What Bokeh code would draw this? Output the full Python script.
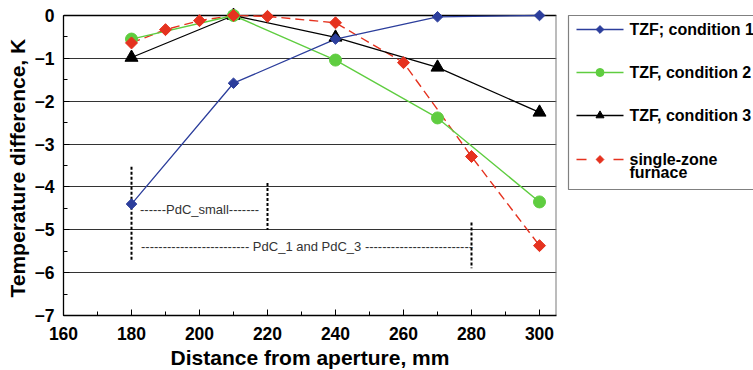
from bokeh.plotting import figure
from bokeh.models import Range1d, SingleIntervalTicker, Title
from bokeh.layouts import row
from bokeh.embed import file_html
from bokeh.resources import INLINE
from bokeh.core.properties import value
import numpy as np

# Measured temperature differences (K) along the furnace
distance = [180, 210, 240, 270, 300]
tzf_cond1 = [-4.40, -1.58, -0.55, -0.03, 0.0]
tzf_cond2 = [-0.55, 0.0, -1.04, -2.39, -4.35]
tzf_cond3 = [-0.98, 0.0, -0.51, -1.21, -2.26]

single_distance = [180, 190, 200, 210, 220, 240, 260, 280, 300]
single_zone = [-0.64, -0.33, -0.12, 0.0, -0.02, -0.17, -1.10, -3.29, -5.37]

series_labels = ["TZF; condition 1", "TZF, condition 2", "TZF, condition 3", "single-zone\nfurnace"]

# Crucible position brackets
bracket_x = [180, 220, 280]
bracket_top = [-3.53, -3.91, -4.83]
bracket_bottom = [-5.70, -5.00, -5.90]
bracket_text = ["------PdC_small-------",
                "-" * 25 + "  PdC_1 and PdC_3  " + "-" * 25]
bracket_text_x = [182.5, 182.8]
bracket_text_y = [-4.53, -5.40]

BLUE = "#2c3e9c"
GREEN = "#5fcd40"
BLACK = "#000000"
RED = "#e5321f"
FONT = "Liberation Sans"

x_start, x_end = 160, 305
y_start, y_end = -7, 0

p = figure(frame_width=493, frame_height=315,
           x_range=Range1d(x_start, x_end), y_range=Range1d(y_start, y_end + 0.35),
           output_backend="svg", toolbar_location=None,
           min_border_left=62, min_border_right=1, min_border_top=0, min_border_bottom=55)
p.outline_line_color = None
p.background_fill_color = "white"

# axes
p.xaxis.ticker = SingleIntervalTicker(interval=20, num_minor_ticks=2)
p.yaxis.ticker = SingleIntervalTicker(interval=1, num_minor_ticks=2)
p.xaxis.bounds = (x_start, x_end)
p.yaxis.bounds = (y_start, y_end)
for ax in (p.xaxis[0], p.yaxis[0]):
    ax.major_tick_in = 6
    ax.major_tick_out = 0
    ax.minor_tick_in = 4
    ax.minor_tick_out = 0
    ax.axis_line_color = "black"
    ax.axis_line_width = 1.3
    ax.major_tick_line_color = "black"
    ax.minor_tick_line_color = "black"
    ax.major_label_text_font = FONT
    ax.major_label_text_font_style = "bold"
    ax.major_label_text_font_size = "17.5px"
    ax.major_label_text_color = "black"
    ax.axis_label_text_font = FONT
    ax.axis_label_text_font_style = "bold"
    ax.axis_label_text_font_size = "21px"
    ax.axis_label_text_color = "black"
p.xaxis.axis_label = "Distance from aperture, mm"
p.xaxis.major_label_standoff = 11
p.xaxis.axis_label_standoff = 3
p.yaxis.major_label_standoff = 9

p.xgrid.grid_line_color = None
p.ygrid.ticker = SingleIntervalTicker(interval=1)
p.ygrid.grid_line_color = "#333333"
p.ygrid.grid_line_width = 1

# y axis caption, placed along the 0..-7 span of the frame
ycap = Title(text="Temperature difference, K", align="left", offset=18,
             text_font=FONT, text_font_style="bold", text_font_size="21px",
             text_color="black", standoff=6)
p.add_layout(ycap, "left")

# frame top and right border
p.segment(x0=[x_start], y0=[y_end], x1=[x_end], y1=[y_end], line_color="black", line_width=1.3)
p.segment(x0=[x_end], y0=[y_start], x1=[x_end], y1=[y_end], line_color="#7a7a7a", line_width=2)

# bracket annotations
p.segment(x0=bracket_x, y0=bracket_top, x1=bracket_x, y1=bracket_bottom,
          line_color="black", line_width=2, line_dash="3 2")
p.text(x=bracket_text_x, y=bracket_text_y, text=bracket_text,
       text_font=value(FONT), text_font_size="13px", text_color="#333333",
       text_baseline="middle", text_align="left")

# series
p.line(single_distance, single_zone, line_color=RED, line_width=1.4, line_dash="9 5")
p.line(distance, tzf_cond3, line_color=BLACK, line_width=1.3)
p.line(distance, tzf_cond2, line_color=GREEN, line_width=1.4)
p.line(distance, tzf_cond1, line_color=BLUE, line_width=1.3)

p.scatter(distance, tzf_cond3, marker="triangle", size=13, fill_color=BLACK, line_color=BLACK)
p.scatter(distance, tzf_cond2, marker="circle", size=12, fill_color=GREEN, line_color=GREEN)
p.scatter(single_distance, single_zone, marker="square", angle=np.pi / 4, size=8.5,
          fill_color=RED, line_color=RED)
p.scatter(distance, tzf_cond1, marker="square", angle=np.pi / 4, size=7.5,
          fill_color=BLUE, line_color=BLUE)

# legend panel
leg = figure(frame_width=197, frame_height=370, x_range=Range1d(0, 197), y_range=Range1d(370, 0),
             output_backend="svg", toolbar_location=None,
             x_axis_location=None, y_axis_location=None,
             min_border_left=0, min_border_right=0, min_border_top=0, min_border_bottom=0)
leg.grid.visible = False
leg.outline_line_color = None

leg.quad(left=[11], right=[196.5], top=[15], bottom=[189],
         fill_color="white", line_color="#808080", line_width=1.2)

item_y = [29, 72, 115, 159]
gx0, gx1, gxm, tx = 19, 66, 42.5, 72
colors = [BLUE, GREEN, BLACK, RED]
markers = ["square", "circle", "triangle", "square"]
angles = [np.pi / 4, 0, 0, np.pi / 4]
msizes = [5.5, 8, 8, 5.5]
for i in range(3):
    leg.segment(x0=[gx0], y0=[item_y[i]], x1=[gx1], y1=[item_y[i]], line_color=colors[i], line_width=1.3)
# dashed red sample
leg.segment(x0=[gx0, gx1 - 10], y0=[item_y[3]] * 2, x1=[gx0 + 10, gx1], y1=[item_y[3]] * 2,
            line_color=RED, line_width=1.3)
for i in range(4):
    leg.scatter([gxm], [item_y[i]], marker=markers[i], angle=angles[i], size=msizes[i],
                fill_color=colors[i], line_color=colors[i])

for i, lab in enumerate(series_labels):
    for j, part in enumerate(lab.split("\n")):
        leg.text(x=[tx], y=[item_y[i] + 13 * j], text=[part],
                 text_font=value(FONT), text_font_style="bold", text_font_size="16px",
                 text_color="black", text_baseline="middle", text_align="left")

layout = row(p, leg)
open("out.html", "w").write(file_html(layout, INLINE))
